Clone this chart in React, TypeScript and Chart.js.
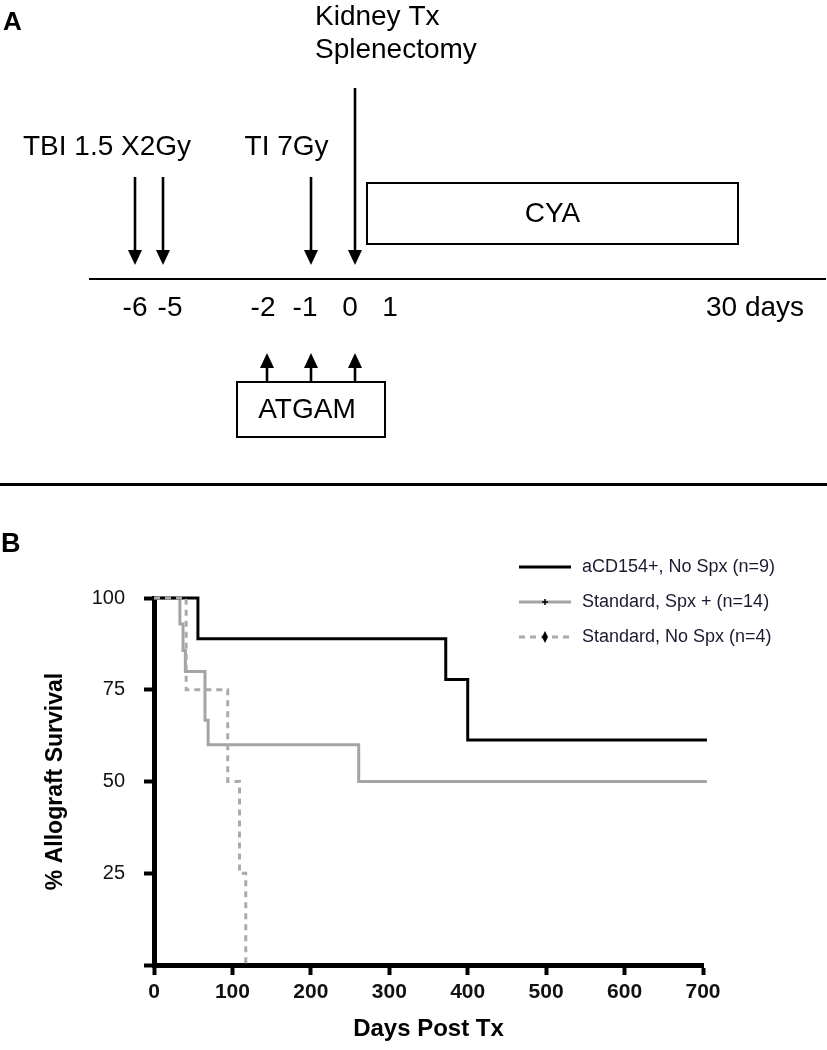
import React, { useEffect, useRef } from 'react';
import { Chart, registerables } from 'chart.js';

Chart.register(...registerables);

const FONT = "'Liberation Sans', Arial, Helvetica, sans-serif";

/* ---------- Panel A: treatment timeline (schematic positions) ---------- */
const timelineLabels = ['-6', '-5', '-2', '-1', '0', '1', '30 days'];
const timelineSlots = [-5.5, -4.625, -2.3, -1.25, -0.125, 0.875, 10.0];
const arrowDays = ['-6', '-5', '-2', '-1', '0'];
const arrowSlots = [-5.5, -4.8, -2.2, -1.1, 0];
const irradiationLabels = ['TBI 1.5 X2Gy', 'TI 7Gy'];
const irradiationDays = [['-6', '-5'], ['-1']];
const irradiationLabelSlots = [-6.2, -1.71];
const surgeryLines = ['Kidney Tx', 'Splenectomy'];
const surgeryDay = '0';
const surgeryLabelSlot = -1.0;
const atgamLabel = 'ATGAM';
const atgamDays = ['-2', '-1', '0'];
const atgamSpan = [-2.95, 0.75];
const cyaLabel = 'CYA';
const cyaSpan = [0.3, 9.575];

/* ---------- Panel B: Kaplan-Meier allograft survival ---------- */
const seriesLabels = ['aCD154+, No Spx (n=9)', 'Standard, Spx + (n=14)', 'Standard, No Spx (n=4)'];
const daysACD154 = [0, 56, 372, 400, 705];
const survivalACD154 = [100, 88.9, 77.8, 61.3, 61.3];
const daysStdSpx = [0, 33, 37, 40, 65, 69, 261, 705];
const survivalStdSpx = [100, 92.9, 85.7, 80, 66.7, 60, 50, 50];
const daysStdNoSpx = [0, 41, 94, 109, 117];
const survivalStdNoSpx = [100, 75, 50, 25, 0];
const xTicks = [0, 100, 200, 300, 400, 500, 600, 700];
const yTicks = [0, 25, 50, 75, 100];
const yTickLabels = ['', '25', '50', '75', '100'];

/* ---------- layout & styles ---------- */
const A_H = 480;
const B_TOP = 488;
const B_H = 1050 - B_TOP;
const A_ROWS = {
  surgeryText: [25, 58],
  irradiationText: 155,
  surgeryArrowTop: 88,
  arrowTop: 177,
  arrowTip: 265,
  timeline: 279,
  cyaTop: 183,
  cyaBottom: 244,
  atgamTip: 353,
  atgamTop: 382,
  atgamBottom: 437,
};
const seriesStyles = [
  { color: '#000000', dash: [] as number[], order: 1, marker: 'none' },
  { color: '#a4a4a4', dash: [] as number[], order: 2, marker: 'plus' },
  { color: '#ababab', dash: [6, 5], order: 0, marker: 'diamond' },
];
const LEGEND = { lineX0: 519, lineX1: 571, textX: 582, rowY0: 79, rowGap: 35 };

function drawArrow(ctx: CanvasRenderingContext2D, x: number, yFrom: number, yTip: number) {
  const dir = Math.sign(yTip - yFrom);
  const headLen = 15;
  const hw = 7;
  ctx.beginPath();
  ctx.lineWidth = 2.6;
  ctx.moveTo(x, yFrom);
  ctx.lineTo(x, yTip - dir * headLen + dir);
  ctx.stroke();
  ctx.beginPath();
  ctx.moveTo(x, yTip);
  ctx.lineTo(x - hw, yTip - dir * headLen);
  ctx.lineTo(x + hw, yTip - dir * headLen);
  ctx.closePath();
  ctx.fill();
}

const timelinePlugin = {
  id: 'timelineDiagram',
  afterDraw(chart: any) {
    const ctx: CanvasRenderingContext2D = chart.ctx;
    const xs = chart.scales.x;
    const ys = chart.scales.y;
    const px = (v: number) => xs.getPixelForValue(v);
    const py = (v: number) => ys.getPixelForValue(v);
    const slotOf = (d: string) => arrowSlots[arrowDays.indexOf(d)];
    ctx.save();
    ctx.fillStyle = '#000';
    ctx.strokeStyle = '#000';
    ctx.textBaseline = 'alphabetic';

    ctx.font = `bold 26px ${FONT}`;
    ctx.textAlign = 'left';
    ctx.fillText('A', 3, 30);

    ctx.font = `28px ${FONT}`;
    ctx.textAlign = 'center';
    irradiationLabels.forEach((lab, i) => {
      ctx.fillText(lab, px(irradiationLabelSlots[i]), py(A_ROWS.irradiationText));
      irradiationDays[i].forEach((d) => drawArrow(ctx, px(slotOf(d)), py(A_ROWS.arrowTop), py(A_ROWS.arrowTip)));
    });

    ctx.textAlign = 'left';
    surgeryLines.forEach((t, i) => ctx.fillText(t, px(surgeryLabelSlot), py(A_ROWS.surgeryText[i])));
    drawArrow(ctx, px(slotOf(surgeryDay)), py(A_ROWS.surgeryArrowTop), py(A_ROWS.arrowTip));

    // CYA box
    ctx.lineWidth = 2;
    const cx0 = px(cyaSpan[0]);
    const cx1 = px(cyaSpan[1]);
    ctx.strokeRect(cx0, py(A_ROWS.cyaTop), cx1 - cx0, py(A_ROWS.cyaBottom) - py(A_ROWS.cyaTop));
    ctx.textAlign = 'center';
    ctx.textBaseline = 'middle';
    ctx.fillText(cyaLabel, (cx0 + cx1) / 2, (py(A_ROWS.cyaTop) + py(A_ROWS.cyaBottom)) / 2 + 1);

    // ATGAM box and arrows
    const ax0 = px(atgamSpan[0]);
    const ax1 = px(atgamSpan[1]);
    ctx.lineWidth = 2;
    ctx.strokeRect(ax0, py(A_ROWS.atgamTop), ax1 - ax0, py(A_ROWS.atgamBottom) - py(A_ROWS.atgamTop));
    ctx.fillText(atgamLabel, (ax0 + ax1) / 2 - 4, (py(A_ROWS.atgamTop) + py(A_ROWS.atgamBottom)) / 2 + 1);
    atgamDays.forEach((d) => drawArrow(ctx, px(slotOf(d)), py(A_ROWS.atgamTop), py(A_ROWS.atgamTip)));
    ctx.restore();
  },
};

const legendPlugin = {
  id: 'kmLegend',
  afterDraw(chart: any) {
    const ctx: CanvasRenderingContext2D = chart.ctx;
    ctx.save();
    ctx.fillStyle = '#000';
    ctx.font = `bold 27px ${FONT}`;
    ctx.textAlign = 'left';
    ctx.textBaseline = 'alphabetic';
    ctx.fillText('B', 1, 64);

    chart.data.datasets.forEach((ds: any, i: number) => {
      const st = seriesStyles[i];
      const y = LEGEND.rowY0 + i * LEGEND.rowGap;
      ctx.beginPath();
      ctx.strokeStyle = st.color;
      ctx.lineWidth = 3;
      ctx.setLineDash(st.dash);
      ctx.moveTo(LEGEND.lineX0, y);
      ctx.lineTo(LEGEND.lineX1, y);
      ctx.stroke();
      ctx.setLineDash([]);
      const mx = (LEGEND.lineX0 + LEGEND.lineX1) / 2;
      ctx.fillStyle = '#000';
      ctx.strokeStyle = '#000';
      if (st.marker === 'plus') {
        ctx.lineWidth = 1.5;
        ctx.beginPath();
        ctx.moveTo(mx - 3, y);
        ctx.lineTo(mx + 3, y);
        ctx.moveTo(mx, y - 3);
        ctx.lineTo(mx, y + 3);
        ctx.stroke();
      } else if (st.marker === 'diamond') {
        ctx.beginPath();
        ctx.moveTo(mx, y - 6);
        ctx.lineTo(mx + 3, y);
        ctx.lineTo(mx, y + 6);
        ctx.lineTo(mx - 3, y);
        ctx.closePath();
        ctx.fill();
      }
      ctx.fillStyle = '#1a1a30';
      ctx.font = `18px ${FONT}`;
      ctx.textBaseline = 'middle';
      ctx.fillText(ds.label, LEGEND.textX, y);
    });
    ctx.restore();
  },
};

function TimelinePanel() {
  const ref = useRef<HTMLCanvasElement>(null);
  useEffect(() => {
    if (!ref.current) return;
    const chart = new Chart(ref.current, {
      type: 'scatter',
      data: { datasets: [] },
      options: {
        responsive: false,
        animation: false,
        devicePixelRatio: 1,
        events: [],
        layout: { padding: { left: 90, right: 2, top: 0, bottom: 0 } },
        plugins: { legend: { display: false }, tooltip: { enabled: false } },
        scales: {
          x: {
            type: 'linear',
            min: -6.625,
            max: 11.75,
            position: { y: A_ROWS.timeline } as any,
            border: { display: true, width: 2, color: '#000' },
            grid: { display: false, drawTicks: false },
            ticks: {
              autoSkip: false,
              maxRotation: 0,
              padding: 12,
              color: '#000',
              font: { family: FONT, size: 28 },
              callback: (_v: any, i: number) => timelineLabels[i] ?? '',
            },
            afterBuildTicks: (axis: any) => {
              axis.ticks = timelineSlots.map((v) => ({ value: v }));
            },
            afterFit: (axis: any) => {
              axis.paddingLeft = 0;
              axis.paddingRight = 0;
            },
          },
          y: { type: 'linear', min: 0, max: A_H, reverse: true, display: false },
        },
      } as any,
      plugins: [timelinePlugin],
    });
    return () => chart.destroy();
  }, []);
  return <canvas ref={ref} width={827} height={A_H} style={{ display: 'block', position: 'absolute', left: 0, top: 0 }} />;
}

function SurvivalPanel() {
  const ref = useRef<HTMLCanvasElement>(null);
  useEffect(() => {
    if (!ref.current) return;
    const series = [
      [daysACD154, survivalACD154],
      [daysStdSpx, survivalStdSpx],
      [daysStdNoSpx, survivalStdNoSpx],
    ];
    const chart = new Chart(ref.current, {
      type: 'line',
      data: {
        datasets: series.map(([d, s], i) => ({
          label: seriesLabels[i],
          data: d.map((x, j) => ({ x, y: s[j] })),
          borderColor: seriesStyles[i].color,
          borderWidth: 3,
          borderDash: seriesStyles[i].dash,
          borderCapStyle: 'butt',
          borderJoinStyle: 'miter',
          stepped: true,
          pointRadius: 0,
          fill: false,
          clip: false,
          order: seriesStyles[i].order,
        })),
      },
      options: {
        responsive: false,
        animation: false,
        devicePixelRatio: 1,
        events: [],
        layout: { padding: { top: 110, right: 124, left: 0, bottom: 0 } },
        plugins: { legend: { display: false }, tooltip: { enabled: false } },
        scales: {
          x: {
            type: 'linear',
            min: 0,
            max: 700,
            border: { display: true, width: 5, color: '#000' },
            grid: { drawOnChartArea: false, drawTicks: true, tickLength: 10, tickWidth: 4, tickColor: '#000', color: '#000' },
            ticks: {
              autoSkip: false,
              maxRotation: 0,
              padding: 5,
              color: '#111',
              font: { family: FONT, size: 21, weight: 'bold' },
            },
            afterBuildTicks: (axis: any) => {
              axis.ticks = xTicks.map((v) => ({ value: v }));
            },
            title: {
              display: true,
              text: 'Days Post Tx',
              color: '#000',
              font: { family: FONT, size: 24, weight: 'bold' },
              padding: { top: 0, bottom: 6 },
            },
            afterFit: (axis: any) => {
              axis.height = 85;
            },
          },
          y: {
            type: 'linear',
            min: 0,
            max: 100,
            border: { display: true, width: 5, color: '#000' },
            grid: { drawOnChartArea: false, drawTicks: true, tickLength: 10, tickWidth: 4, tickColor: '#000', color: '#000' },
            ticks: {
              autoSkip: false,
              padding: 19,
              color: '#111',
              font: { family: FONT, size: 20 },
              callback: (_v: any, i: number) => yTickLabels[i] ?? '',
            },
            afterBuildTicks: (axis: any) => {
              axis.ticks = yTicks.map((v) => ({ value: v }));
            },
            title: {
              display: true,
              text: '% Allograft Survival',
              color: '#000',
              font: { family: FONT, size: 23, weight: 'bold' },
              padding: { top: 42, bottom: 0 },
            },
            afterFit: (axis: any) => {
              axis.width = 154;
            },
          },
        },
      } as any,
      plugins: [legendPlugin],
    });
    return () => chart.destroy();
  }, []);
  return <canvas ref={ref} width={827} height={B_H} style={{ display: 'block', position: 'absolute', left: 0, top: B_TOP }} />;
}

export default function App() {
  return (
    <div style={{ position: 'fixed', left: 0, top: 0, width: 827, height: 1050, background: '#fff', overflow: 'hidden' }}>
      <TimelinePanel />
      <div style={{ position: 'absolute', left: 0, top: 483, width: 827, height: 3, background: '#000' }} />
      <SurvivalPanel />
    </div>
  );
}
